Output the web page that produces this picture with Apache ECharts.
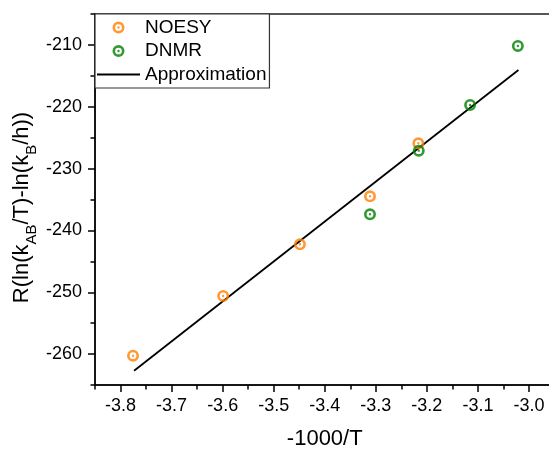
<!DOCTYPE html>
<html>
<head>
<meta charset="utf-8">
<script src="https://cdn.jsdelivr.net/npm/echarts@6/dist/echarts.min.js"></script>
<style>
  html, body { margin: 0; padding: 0; background: #fff; }
  #chart { width: 549px; height: 450px; }
</style>
</head>
<body>
<div id="chart"></div>
<script>
// -1000/T and free-energy term for each measurement
const noesyX = [-3.7755, -3.599, -3.4486, -3.3114, -3.2167];
const noesyY = [-260.26, -250.6, -242.24, -234.48, -225.91];
const dnmrX = [-3.3114, -3.2159, -3.1153, -3.0218];
const dnmrY = [-237.39, -227.1, -219.71, -210.17];
// linear fit end points
const fitX = [-3.7735, -3.0206];
const fitY = [-262.69, -214.05];

// axis ticks
const xMajor = [-3.8, -3.7, -3.6, -3.5, -3.4, -3.3, -3.2, -3.1, -3.0];
const xMinor = [-3.85, -3.75, -3.65, -3.55, -3.45, -3.35, -3.25, -3.15, -3.05, -2.95];
const yMajor = [-260, -250, -240, -230, -220, -210];
const yMinor = [-265, -255, -245, -235, -225, -215, -205];

const FONT = "'Liberation Sans', Arial, sans-serif";
const ORANGE = '#FF8000';
const GREEN = '#008000';
// open circle with a centre dot
const RING = 'path://M0,10 A10,10 0 1,0 20,10 A10,10 0 1,0 0,10 Z ' +
             'M4.4,10 A5.6,5.6 0 1,1 15.6,10 A5.6,5.6 0 1,1 4.4,10 Z ' +
             'M8,10 A2,2 0 1,0 12,10 A2,2 0 1,0 8,10 Z';
// plain horizontal stroke for the fit line's legend entry
const BAR = 'path://M0,0 H43 V1.8 H0 Z';

const zip = (xs, ys) => xs.map((x, i) => [x, ys[i]]);

const chart = echarts.init(document.getElementById('chart'), null, { renderer: 'canvas' });

const axisLine = { show: true, lineStyle: { color: '#000', width: 1.5 } };

chart.setOption({
  animation: false,
  backgroundColor: '#fff',
  textStyle: { fontFamily: FONT, color: '#000' },
  grid: {
    left: 95, top: 14, bottom: 65, width: 459.5,
    containLabel: false, outerBoundsMode: 'none',
    show: true, borderColor: '#222', borderWidth: 1.5, backgroundColor: 'transparent'
  },
  legend: {
    left: 95, top: 14, orient: 'vertical',
    padding: [4, 3, 4, 2],
    itemGap: 4.5, itemWidth: 43, itemHeight: 12,
    borderColor: '#333', borderWidth: 1.2,
    backgroundColor: '#fff',
    textStyle: { fontFamily: FONT, fontSize: 19, color: '#000', padding: [0, 0, 0, 0] },
    data: [
      { name: 'NOESY' },
      { name: 'DNMR' },
      { name: 'Approximation', icon: BAR }
    ]
  },
  xAxis: [
    {
      type: 'value', min: -3.85, max: -2.95, position: 'bottom',
      name: '-1000/T', nameLocation: 'middle', nameGap: 43,
      nameTextStyle: { fontFamily: FONT, fontSize: 22, color: '#000' },
      axisLine: axisLine,
      axisTick: { show: true, inside: false, length: 7, customValues: xMajor,
                  lineStyle: { color: '#000', width: 1.5 } },
      axisLabel: { show: true, customValues: xMajor, margin: 12,
                   fontFamily: FONT, fontSize: 18, color: '#000',
                   formatter: v => v.toFixed(1) },
      splitLine: { show: false }
    },
    {
      type: 'value', min: -3.85, max: -2.95, position: 'bottom', offset: 0,
      axisLine: { show: false },
      axisTick: { show: true, inside: false, length: 4.5, customValues: xMinor,
                  lineStyle: { color: '#000', width: 1.5 } },
      axisLabel: { show: false },
      splitLine: { show: false }
    }
  ],
  yAxis: [
    {
      type: 'value', min: -265, max: -205, position: 'left',
      name: 'R(ln(k{sub|AB}/T)-ln(k{sub|B}/h))', nameLocation: 'middle', nameGap: 56,
      nameRotate: 90, nameMoveOverlap: false,
      nameTextStyle: {
        fontFamily: FONT, fontSize: 22, color: '#000', lineHeight: 34,
        padding: [0, 16, 0, 0],
        rich: {
          sub: { fontFamily: FONT, fontSize: 15, color: '#000', verticalAlign: 'bottom', lineHeight: 34 }
        }
      },
      axisLine: axisLine,
      axisTick: { show: true, inside: false, length: 7, customValues: yMajor,
                  lineStyle: { color: '#000', width: 1.5 } },
      axisLabel: { show: true, customValues: yMajor, margin: 13,
                   fontFamily: FONT, fontSize: 18, color: '#000' },
      splitLine: { show: false }
    },
    {
      type: 'value', min: -265, max: -205, position: 'left', offset: 0,
      axisLine: { show: false },
      axisTick: { show: true, inside: false, length: 4.5, customValues: yMinor,
                  lineStyle: { color: '#000', width: 1.5 } },
      axisLabel: { show: false },
      splitLine: { show: false }
    }
  ],
  series: [
    {
      name: 'Approximation', type: 'line', data: zip(fitX, fitY),
      symbol: 'none', lineStyle: { color: '#000', width: 1.8 },
      itemStyle: { color: '#000' }, z: 2
    },
    {
      name: 'NOESY', type: 'scatter', data: zip(noesyX, noesyY),
      symbol: RING, symbolSize: 12, itemStyle: { color: ORANGE }, z: 3
    },
    {
      name: 'DNMR', type: 'scatter', data: zip(dnmrX, dnmrY),
      symbol: RING, symbolSize: 12, itemStyle: { color: GREEN }, z: 4
    }
  ]
});
</script>
</body>
</html>
